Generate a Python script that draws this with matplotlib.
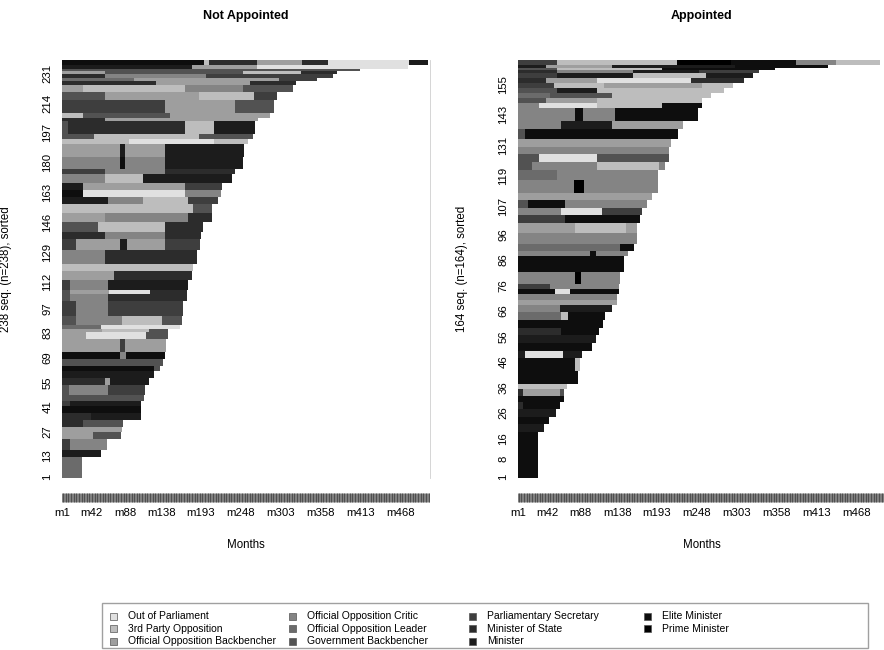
import matplotlib
matplotlib.use('agg')
import matplotlib.pyplot as plt
from matplotlib.patches import Rectangle
import numpy as np

plt.rcParams['font.family'] = ['Liberation Sans', 'DejaVu Sans']

# states (legend order) and their gray shades
states = ['Out of Parliament', '3rd Party Opposition', 'Official Opposition Backbencher',
          'Official Opposition Critic', 'Official Opposition Leader', 'Government Backbencher',
          'Parliamentary Secretary', 'Minister of State', 'Minister',
          'Elite Minister', 'Prime Minister']
grays = ['#e0e0e0', '#bdbdbd', '#9e9e9e', '#848484', '#6b6b6b', '#525252',
         '#3e3e3e', '#2c2c2c', '#1c1c1c', '#0e0e0e', '#000000']

n_months = 508
month_ticks = [1, 42, 88, 138, 193, 248, 303, 358, 413, 468]

nap_yticks = [1, 13, 27, 41, 55, 69, 83, 97, 112, 129, 146, 163, 180, 197, 214, 231]
app_yticks = [1, 8, 16, 26, 36, 46, 56, 66, 76, 86, 96, 107, 119, 131, 143, 155]

# NOT APPOINTED: blocks of sorted sequences, bottom to top
# rows per block, and (state, end month) pieces of each block
nap_rows = [12, 4, 6, 4, 3, 4, 4, 4, 3, 3, 6, 4, 4, 3, 4, 4, 7, 4, 2, 2, 5, 9, 4, 2,
            6, 5, 4, 8, 6, 4, 6, 5, 5, 4, 4, 4, 5, 3, 7, 7, 3, 3, 7, 2, 3, 7, 5, 4,
            2, 2, 2, 2, 1, 2, 3]
nap_segs = [
    [(5, 28)],
    [(9, 55)],
    [(7, 12), (4, 63)],
    [(3, 44), (6, 82)],
    [(3, 83)],
    [(8, 30), (6, 85)],
    [(8, 40), (9, 110)],
    [(10, 110)],
    [(7, 12), (9, 110)],
    [(6, 114)],
    [(6, 10), (4, 64), (7, 115)],
    [(8, 60), (3, 67), (9, 121)],
    [(9, 128)],
    [(10, 128), (6, 136)],
    [(6, 140)],
    [(10, 80), (4, 89), (10, 143)],
    [(3, 80), (7, 88), (3, 144)],
    [(3, 33), (1, 117), (6, 147)],
    [(3, 56), (2, 120), (6, 147)],
    [(5, 55), (1, 164)],
    [(6, 20), (4, 83), (2, 138), (6, 166)],
    [(7, 20), (4, 64), (7, 168)],
    [(6, 12), (4, 64), (8, 173)],
    [(6, 12), (3, 66), (1, 122), (8, 173)],
    [(7, 12), (4, 64), (9, 175)],
    [(3, 73), (8, 180)],
    [(2, 182)],
    [(4, 60), (8, 187)],
    [(7, 20), (3, 80), (9, 90), (3, 143), (7, 191)],
    [(8, 60), (4, 143), (8, 193)],
    [(6, 50), (2, 143), (8, 195)],
    [(3, 60), (4, 175), (8, 207)],
    [(2, 182), (6, 208)],
    [(9, 64), (4, 113), (2, 175), (7, 216)],
    [(10, 30), (1, 170), (4, 220)],
    [(9, 30), (3, 170), (7, 222)],
    [(4, 60), (2, 113), (9, 235)],
    [(7, 60), (4, 143), (8, 239)],
    [(4, 80), (10, 88), (4, 143), (9, 250)],
    [(3, 80), (9, 88), (3, 143), (9, 252)],
    [(2, 93), (1, 210), (2, 257)],
    [(6, 45), (2, 190), (6, 264)],
    [(6, 9), (8, 170), (2, 210), (9, 267)],
    [(8, 60), (3, 271)],
    [(2, 30), (6, 150), (3, 288)],
    [(7, 143), (3, 240), (6, 293)],
    [(6, 60), (3, 190), (2, 265), (7, 297)],
    [(3, 30), (2, 170), (4, 250), (6, 320)],
    [(8, 130), (3, 260), (8, 324)],
    [(5, 100), (3, 300), (7, 352)],
    [(8, 60), (4, 200), (7, 375)],
    [(3, 60), (6, 250), (2, 330), (8, 380)],
    [(6, 412)],
    [(9, 180), (3, 270), (1, 478)],
    [(10, 196), (2, 203), (8, 270), (3, 332), (8, 368), (1, 480), (9, 506)],
]

# APPOINTED
app_rows = [18, 3, 3, 3, 3, 2, 3, 2, 5, 5, 3, 3, 3, 3, 3, 3, 3, 2, 2, 2, 2, 5, 6, 2,
            3, 4, 4, 3, 3, 3, 3, 5, 4, 3, 3, 3, 3, 4, 3, 5, 2, 2, 2, 2, 2, 2, 2, 1,
            1, 1, 2]
app_segs = [
    [(10, 28)],
    [(9, 36)],
    [(10, 44)],
    [(9, 53)],
    [(8, 8), (10, 58)],
    [(10, 64)],
    [(8, 8), (3, 58), (6, 64)],
    [(2, 68)],
    [(10, 83)],
    [(10, 80), (2, 86)],
    [(9, 10), (1, 63), (9, 89)],
    [(10, 103)],
    [(9, 109)],
    [(8, 60), (10, 112)],
    [(10, 118)],
    [(5, 60), (2, 70), (10, 121)],
    [(4, 58), (9, 131)],
    [(3, 138)],
    [(4, 138)],
    [(10, 52), (1, 72), (10, 140)],
    [(7, 45), (4, 140)],
    [(4, 80), (11, 88), (4, 142)],
    [(10, 147)],
    [(4, 100), (10, 108), (4, 152)],
    [(5, 142), (10, 161)],
    [(4, 165)],
    [(3, 80), (2, 150), (3, 165)],
    [(7, 65), (10, 169)],
    [(4, 60), (1, 117), (7, 172)],
    [(6, 15), (10, 65), (4, 179)],
    [(3, 186)],
    [(4, 78), (11, 92), (4, 194)],
    [(5, 55), (4, 194)],
    [(6, 20), (4, 110), (2, 195), (4, 203)],
    [(6, 30), (1, 110), (6, 209)],
    [(4, 209)],
    [(3, 212)],
    [(6, 10), (10, 221)],
    [(4, 60), (9, 130), (3, 228)],
    [(4, 80), (10, 90), (4, 135), (10, 249)],
    [(4, 30), (1, 110), (2, 200), (10, 255)],
    [(6, 40), (3, 110), (2, 255)],
    [(5, 45), (6, 130), (2, 267)],
    [(6, 55), (9, 110), (2, 285)],
    [(7, 50), (2, 120), (3, 255), (2, 297)],
    [(8, 40), (3, 110), (1, 240), (8, 313)],
    [(7, 55), (9, 160), (2, 260), (9, 325)],
    [(8, 55), (4, 160), (9, 250), (7, 334)],
    [(6, 55), (2, 200), (10, 355)],
    [(9, 40), (3, 130), (9, 300), (10, 429)],
    [(7, 55), (2, 220), (11, 295), (10, 385), (4, 440), (2, 500)],
]

W, H = 884, 650
fig = plt.figure(figsize=(W / 100, H / 100), dpi=100)


def px_box(x0, y0, x1, y1):
    # pixel box (top-left origin) -> figure fraction
    return [x0 / W, 1 - y1 / H, (x1 - x0) / W, (y1 - y0) / H]


def seq_plot(ax, rows, segs, yticks, title):
    n = sum(rows)
    bottom = 0.5
    for k, blk in zip(rows, segs):
        start = 0
        for st, end in blk:
            ax.barh(bottom, end - start, left=start, height=k, align='edge',
                    color=grays[st - 1], linewidth=0)
            start = end
        bottom += k
    ax.set_xlim(0, n_months)
    ax.set_ylim(0.5, n + 0.5)

    for s in ['top', 'left', 'bottom']:
        ax.spines[s].set_visible(False)
    ax.spines['right'].set_color('#cfcfcf')
    ax.spines['right'].set_linewidth(0.6)
    ax.spines['bottom'].set_position(('outward', 10.8))

    ax.set_xticks([m - 0.5 for m in month_ticks])
    ax.set_xticklabels(['m%d' % m for m in month_ticks])
    ax.set_xticks(np.arange(n_months) + 0.5, minor=True)
    ax.tick_params(axis='x', which='both', length=6.5, width=0.45, color='#333333',
                   direction='out', labelsize=8.2, pad=4)

    ax.set_yticks(yticks)
    ax.set_yticklabels([str(t) for t in yticks], rotation=90, va='center')
    ax.tick_params(axis='y', length=0, labelsize=8.2, pad=6.5)

    ax.set_ylabel('%d seq. (n=%d), sorted' % (n, n), fontsize=8.3)
    ax.yaxis.set_label_coords(-0.1345, 0.5)
    ax.set_xlabel('Months', fontsize=8.3)
    ax.xaxis.set_label_coords(0.5, -0.16)
    ax.xaxis.label.set_va('center')

    ax.text(0.5, 1 + 44 / 418, title, transform=ax.transAxes, ha='center',
            va='center', fontsize=9, fontweight='bold')


ax1 = fig.add_axes(px_box(61.6, 60, 429.6, 478))
seq_plot(ax1, nap_rows, nap_segs, nap_yticks, 'Not Appointed')
ax2 = fig.add_axes(px_box(517.5, 60, 885.5, 478))
seq_plot(ax2, app_rows, app_segs, app_yticks, 'Appointed')

# legend (R style, equal column widths)
lg = fig.add_axes([0, 0, 1, 1])
lg.set_xlim(0, W)
lg.set_ylim(H, 0)
lg.axis('off')
lg.add_patch(Rectangle((102, 603), 766, 45, fill=False, ec='#a0a0a0', lw=1.0))
col_x = [113, 292, 472, 647]
row_y = [616, 628.5, 641]
for i, name in enumerate(states):
    x = col_x[i // 3]
    y = row_y[i % 3]
    lg.add_patch(Rectangle((x - 3.5, y - 3.5), 7, 7, fc=grays[i], ec='#555555', lw=0.5))
    lg.text(x + 15, y, name, va='center', ha='left', fontsize=7.5)

plt.savefig('out.png', dpi=100)
